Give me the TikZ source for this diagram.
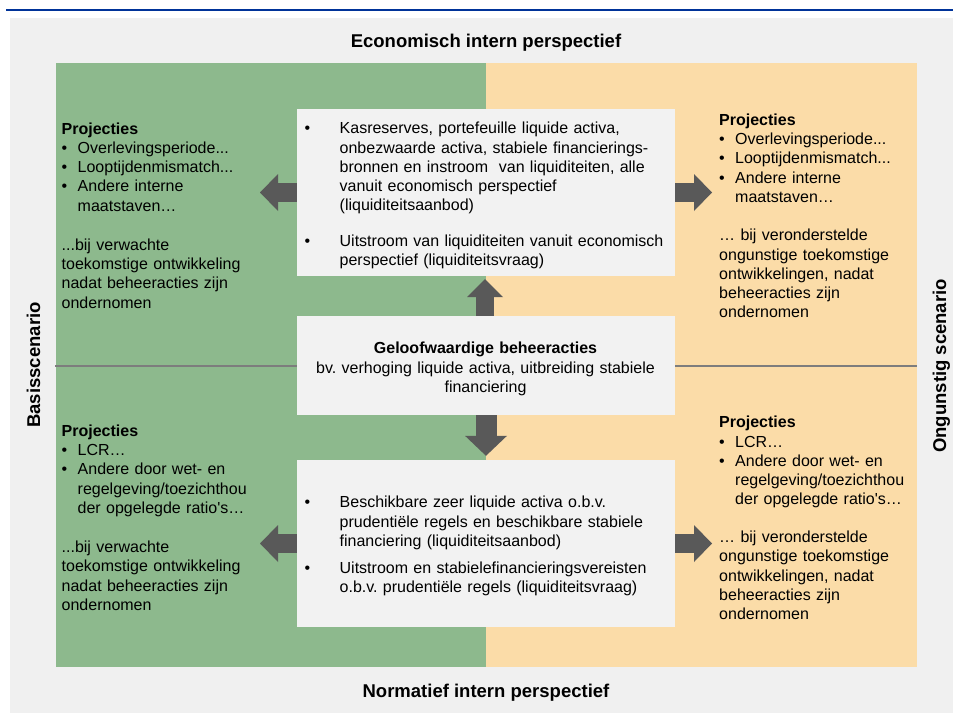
\documentclass[tikz,border=0pt]{standalone}
\usepackage{fontspec}
\setmainfont{Liberation Sans}[Ligatures=TeXOff]
\usetikzlibrary{arrows.meta}
\frenchspacing
\definecolor{bgc}{RGB}{240,240,240}
\definecolor{boxc}{RGB}{242,242,242}
\definecolor{greenc}{RGB}{141,185,141}
\definecolor{peachc}{RGB}{251,220,168}
\definecolor{arrc}{RGB}{89,89,89}
\definecolor{bluec}{RGB}{0,51,153}
\definecolor{linec}{RGB}{125,125,125}
\newcommand\bodyfont{\fontsize{16}{19.3}\selectfont\frenchspacing}
\newcommand\titlefont{\fontsize{18.5}{21}\selectfont\bfseries}
\newcommand\bl{\makebox[16pt][l]{•}}
\newcommand\ind{\hspace*{16pt}}
\newcommand\cbl{\makebox[35pt][l]{•}}
\newcommand\cind{\hspace*{35pt}}
\begin{document}
\begin{tikzpicture}[x=1pt,y=-1pt,
  cbox/.style={fill=boxc, draw=none, inner sep=0pt, minimum width=378pt},
  txt/.style={anchor=base west, inner sep=0pt, align=left, text width=#1, font=\bodyfont},
  ctxt/.style={anchor=base, inner sep=0pt, align=center, text width=378pt, font=\bodyfont},
  ttl/.style={anchor=base, inner sep=0pt, font=\titlefont},
  harrow/.style={draw=arrc, line width=19pt, -{Triangle[width=37pt,length=18pt,line width=0pt]}},
  uarrow/.style={draw=arrc, line width=18pt, -{Triangle[width=36pt,length=18pt,line width=0pt]}},
  darrow/.style={draw=arrc, line width=21pt, -{Triangle[width=42pt,length=20pt,line width=0pt]}}]
\useasboundingbox (0,0) rectangle (953,717);
% frame
\draw[bluec, line width=2pt] (6,10) -- (953,10);
\fill[bgc] (10,18) rectangle (953,713);
\fill[greenc] (56,63) rectangle (486,667);
\fill[peachc] (486,63) rectangle (917,667);
\draw[linec, line width=1.5pt] (55,366) -- (917,366);
% titles
\node[ttl] (ecotitle) at (486,48) {Economisch intern perspectief};
\node[ttl] (normtitle) at (486,697) {Normatief intern perspectief};
\node[ttl, rotate=90] (basis) at (40,365) {Basisscenario};
\node[ttl, rotate=90] (ongunstig) at (946,366) {Ongunstig scenario};
% central boxes
\node[cbox, minimum height=167pt] (ecobox) at (486,192.5) {};
\node[cbox, minimum height=99pt] (mgmt) at (486,365.5) {};
\node[cbox, minimum height=167pt] (normbox) at (486,543.5) {};
\node[txt=380pt] (ecotext) at (304.5,133.7) {\cbl Kasreserves, portefeuille liquide activa,\\
 \cind onbezwaarde activa, stabiele financierings-\\
 \cind bronnen en instroom\ \ van liquiditeiten, alle\\
 \cind vanuit economisch perspectief\\
 \cind (liquiditeitsaanbod)\\[16.3pt]
 \cbl Uitstroom van liquiditeiten vanuit economisch\\
 \cind perspectief (liquiditeitsvraag)};
\node[ctxt] (mgmttext) at (485.5,353.7) {\textbf{Geloofwaardige beheeracties}\\
 bv. verhoging liquide activa, uitbreiding stabiele\\
 financiering};
\node[txt=380pt] (normtext) at (304.5,507.7) {\cbl Beschikbare zeer liquide activa o.b.v.\\
 \cind prudentiële regels en beschikbare stabiele\\
 \cind financiering (liquiditeitsaanbod)\\[7.7pt]
 \cbl Uitstroom en stabielefinancieringsvereisten\\
 \cind o.b.v. prudentiële regels (liquiditeitsvraag)};
% side texts
\node[txt=200pt] (lt) at (61.5,134) {\textbf{Projecties}\\
 \bl Overlevingsperiode...\\
 \bl Looptijdenmismatch...\\
 \bl Andere interne\\
 \ind maatstaven…\\[19.8pt]
 ...bij verwachte\\
 toekomstige ontwikkeling\\
 nadat beheeracties zijn\\
 ondernomen};
\node[txt=195pt] (rt) at (719,125.3) {\textbf{Projecties}\\
 \bl Overlevingsperiode...\\
 \bl Looptijdenmismatch...\\
 \bl Andere interne\\
 \ind maatstaven…\\[19pt]
 … bij veronderstelde\\
 ongunstige toekomstige\\
 ontwikkelingen, nadat\\
 beheeracties zijn\\
 ondernomen};
\node[txt=200pt] (lb) at (61.5,436.3) {\textbf{Projecties}\\
 \bl LCR…\\
 \bl Andere door wet- en\\
 \ind regelgeving/toezichthou\\
 \ind der opgelegde ratio's…\\[19.6pt]
 ...bij verwachte\\
 toekomstige ontwikkeling\\
 nadat beheeracties zijn\\
 ondernomen};
\node[txt=195pt] (rb) at (719,427.7) {\textbf{Projecties}\\
 \bl LCR…\\
 \bl Andere door wet- en\\
 \ind regelgeving/toezichthou\\
 \ind der opgelegde ratio's…\\[18.4pt]
 … bij veronderstelde\\
 ongunstige toekomstige\\
 ontwikkelingen, nadat\\
 beheeracties zijn\\
 ondernomen};
% arrow targets
\coordinate (tl) at (260,192.5);
\coordinate (tr) at (712,192.5);
\coordinate (bl) at (260,543.5);
\coordinate (br) at (712,543.5);
% arrows
\draw[harrow] (ecobox.west) -- (tl);
\draw[harrow] (ecobox.east) -- (tr);
\draw[harrow] (normbox.west) -- (bl);
\draw[harrow] (normbox.east) -- (br);
\draw[uarrow, shorten >=3pt] ([xshift=-1pt]mgmt.north) -- ([xshift=-1pt]ecobox.south);
\draw[darrow, shorten >=4pt] (mgmt.south) -- (normbox.north);
\end{tikzpicture}
\end{document}
